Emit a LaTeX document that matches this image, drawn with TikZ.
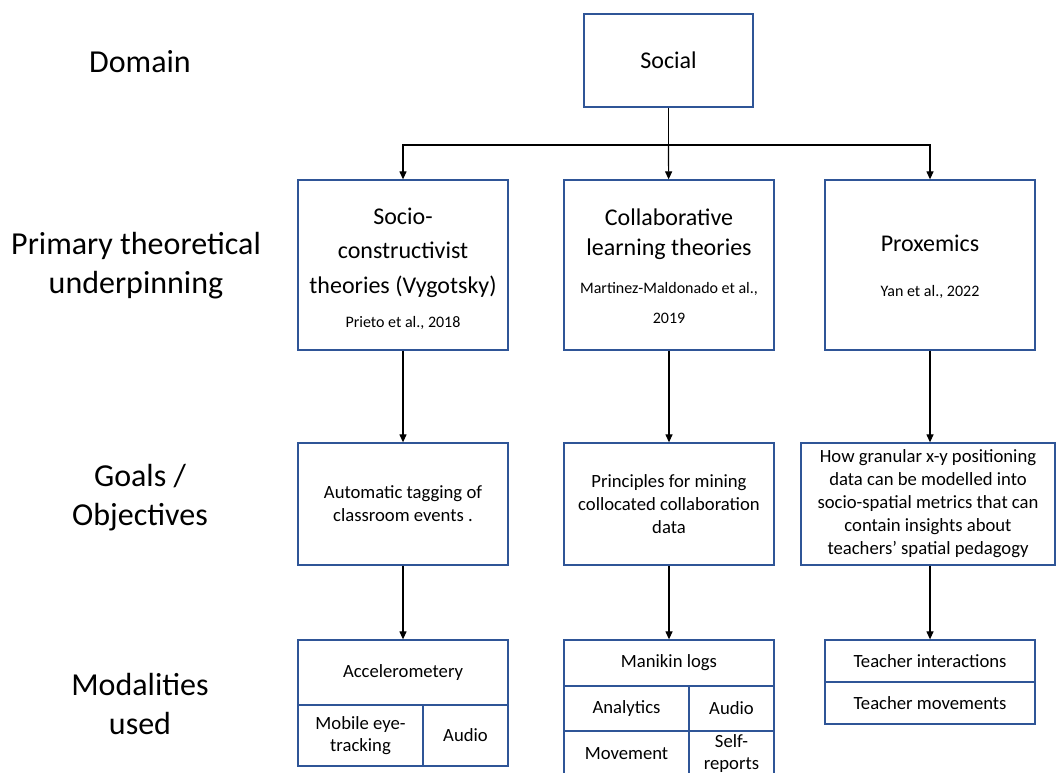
\documentclass[tikz,border=0pt]{standalone}
\usepackage{fontspec}
\setmainfont{Carlito}
\usepackage{xcolor}
\usetikzlibrary{arrows.meta,positioning,calc}
\definecolor{boxblue}{RGB}{47,85,151}
\newcommand{\citesz}{\fontsize{16}{23}\selectfont}
\tikzset{
  flowarr/.style={-{Triangle[length=8pt,width=7pt]}, line width=1.2pt, draw=black},
  flowbox/.style={draw=boxblue, line width=1.3pt, align=center, inner sep=2pt},
  rowlabel/.style={font=\fontsize{32}{39}\selectfont, align=center},
}

\begin{document}
\begin{tikzpicture}[
  x=1pt, y=-1pt,
  theory/.style={flowbox, minimum width=210pt, minimum height=170pt},
  goal/.style={flowbox, minimum height=122pt, font=\fontsize{18.67}{23}\selectfont},
  modcell/.style={flowbox, font=\fontsize{18.67}{22}\selectfont},
]
  \useasboundingbox (0,0) rectangle (1056,772);

  % row labels
  \node[rowlabel] (domain) at (140,62) {Domain};
  \node[rowlabel] (primary) at (136,266) {Primary theoretical\\underpinning};
  \node[rowlabel] (goals) at (140,498) {Goals /\\Objectives};
  \node[rowlabel] (modal) at (140,704) {Modalities\\used};

  % domain
  \node[flowbox, minimum width=169pt, minimum height=93pt, font=\fontsize{24}{29}\selectfont] (social) at (668.5,60.5) {Social};
  \coordinate (hub) at (668.5,145);

  % theories
  \node[theory, font=\fontsize{24}{34.5}\selectfont] (socio) at (403,265)
    {\\[-10pt]Socio-\\constructivist\\theories (Vygotsky)\\\citesz Prieto et al., 2018};
  \node[theory, font=\fontsize{24}{30}\selectfont] (collab) at (669,265)
    {\\[-10pt]Collaborative\\learning theories\\[8pt]\citesz Martinez-Maldonado et al.,\\\citesz 2019};
  \node[theory, font=\fontsize{24}{30}\selectfont] (prox) at (930,265)
    {\\[-10pt]Proxemics\\[15pt]\citesz Yan et al., 2022};

  % goals
  \node[goal, minimum width=210pt] (tagging) at (403,504)
    {Automatic tagging of\\classroom events .};
  \node[goal, minimum width=210pt] (mining) at (669,504)
    {Principles for mining\\collocated collaboration\\data};
  \node[goal, minimum width=254pt] (granular) at (928,504)
    {How granular x-y positioning\\data can be modelled into\\socio-spatial metrics that can\\contain insights about\\teachers’ spatial pedagogy};

  % modalities
  \node[modcell, minimum width=210pt, minimum height=65pt] (accel) at (403,672.5) {Accelerometery};
  \node[modcell, minimum width=125pt, minimum height=61pt] (eyetrack) at (360.5,735.5) {Mobile eye-\\tracking};
  \node[modcell, minimum width=85pt, minimum height=61pt] (audioa) at (465.5,735.5) {Audio};

  \node[modcell, minimum width=210pt, minimum height=46pt] (manikin) at (669,663) {Manikin logs};
  \node[modcell, minimum width=125pt, minimum height=45pt] (analytics) at (626.5,708.5) {Analytics};
  \node[modcell, minimum width=85pt, minimum height=45pt] (audiob) at (731.5,708.5) {Audio};
  \node[modcell, minimum width=125pt, minimum height=45pt] (movement) at (626.5,753.5) {Movement};
  \node[modcell, minimum width=85pt, minimum height=45pt] (selfrep) at (731.5,753.5) {Self-\\reports};

  \node[modcell, minimum width=210pt, minimum height=42pt] (interact) at (930,661) {Teacher interactions};
  \node[modcell, minimum width=210pt, minimum height=42pt] (tmove) at (930,703) {Teacher movements};

  % connectors
  \draw[line width=1.2pt] (social) -- (hub);
  \draw[flowarr] (hub) -| (socio.north);
  \draw[flowarr] (hub) -- (collab);
  \draw[flowarr] (hub) -| (prox.north);
  \draw[flowarr] (socio) -- (tagging);
  \draw[flowarr] (collab) -- (mining);
  \draw[flowarr] (prox) -- (prox |- granular.north);
  \draw[flowarr] (tagging) -- (accel);
  \draw[flowarr] (mining) -- (manikin);
  \draw[flowarr] (interact |- granular.south) -- (interact);
\end{tikzpicture}
\end{document}
